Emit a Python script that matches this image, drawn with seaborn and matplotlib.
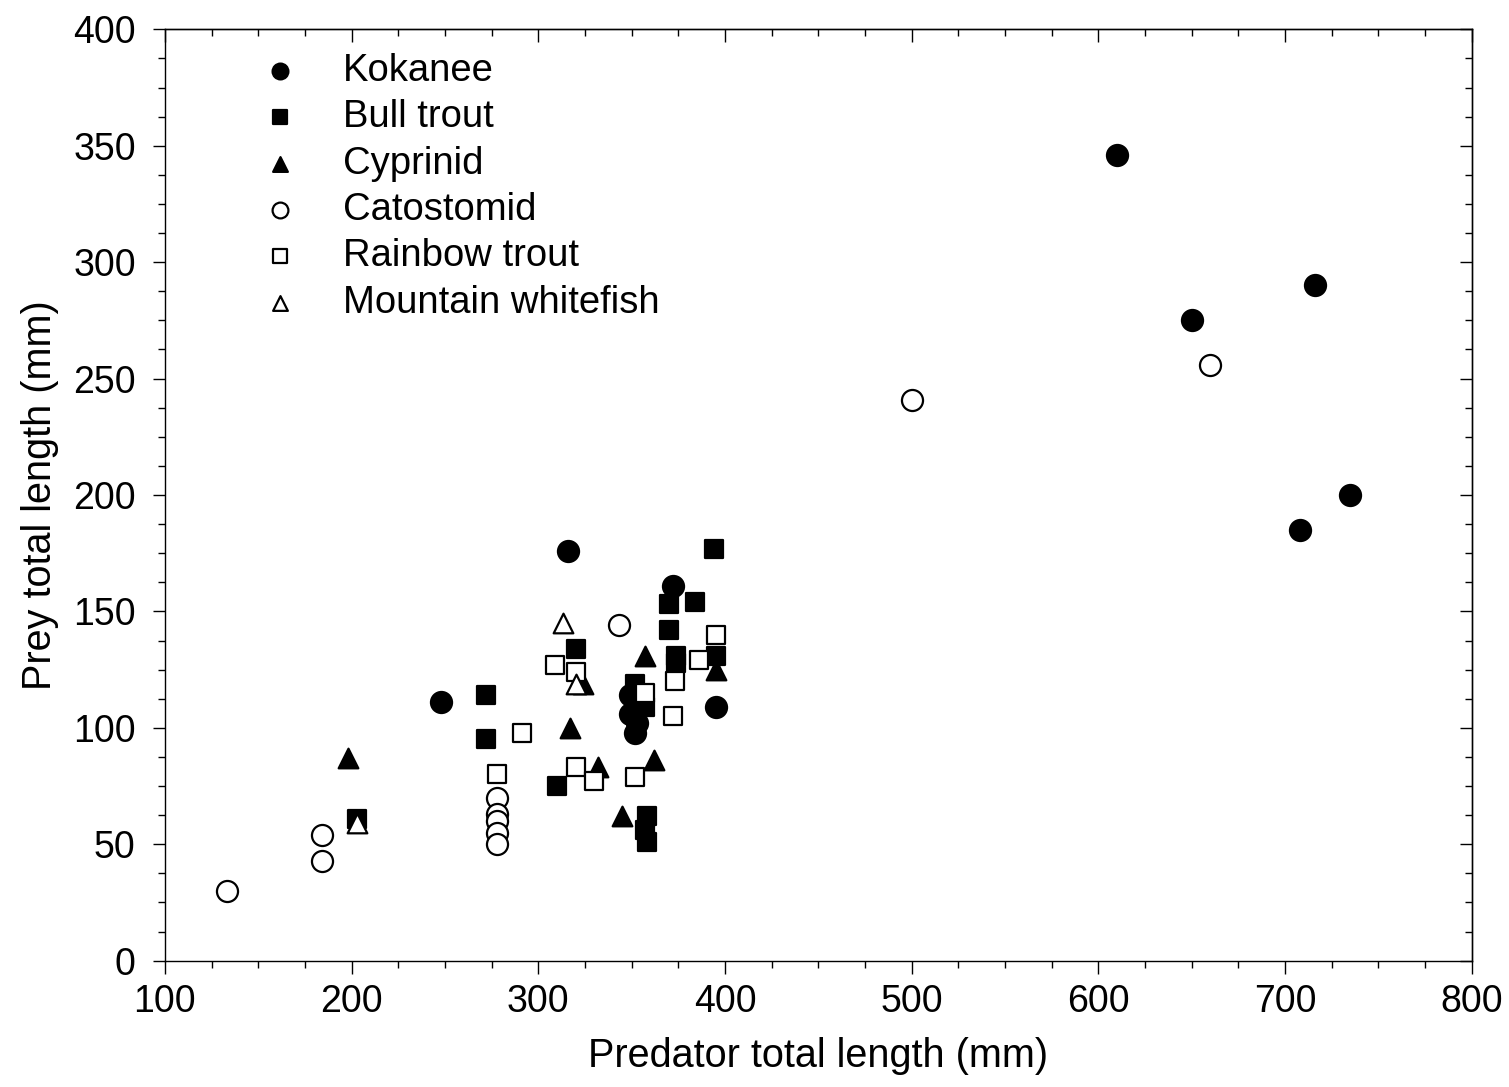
import numpy as np
import pandas as pd
import matplotlib
matplotlib.use("Agg")
import matplotlib.pyplot as plt
from matplotlib.ticker import MultipleLocator
import seaborn as sns

# prey eaten by predators, lengths in mm
kokanee_pred = [610, 650, 716, 708, 735, 248, 316, 372, 395, 349, 349, 353, 352]
kokanee_prey = [346, 275, 290, 185, 200, 111, 176, 161, 109, 114, 106, 102, 98]

bull_pred = [394, 370, 384, 370, 320, 374, 374, 395, 352, 357, 272, 272, 310, 358, 357, 358, 203]
bull_prey = [177, 153, 154, 142, 134, 131, 128, 131, 119, 109, 114, 95, 75, 62, 56, 51, 61]

cyp_pred = [357, 395, 324, 317, 332, 362, 345, 198]
cyp_prey = [131, 125, 119, 100, 83, 86, 62, 87]

cat_pred = [343, 500, 660, 278, 278, 278, 278, 278, 184, 184, 133]
cat_prey = [144, 241, 256, 70, 63, 60, 55, 50, 54, 43, 30]

rbt_pred = [395, 386, 309, 320, 373, 357, 372, 291, 320, 330, 352, 278]
rbt_prey = [140, 129, 127, 124, 120, 115, 105, 98, 83, 77, 79, 80]

mwf_pred = [313, 320, 203]
mwf_prey = [145, 119, 59]

species = ["Kokanee", "Bull trout", "Cyprinid", "Catostomid", "Rainbow trout", "Mountain whitefish"]

frames = []
for name, xs, ys in zip(species,
                        [kokanee_pred, bull_pred, cyp_pred, cat_pred, rbt_pred, mwf_pred],
                        [kokanee_prey, bull_prey, cyp_prey, cat_prey, rbt_prey, mwf_prey]):
    frames.append(pd.DataFrame({"pred": xs, "prey": ys, "species": name}))
df = pd.concat(frames, ignore_index=True)

# marker look per species
style = {
    "Kokanee": ("o", "black", 230),
    "Bull trout": ("s", "black", 170),
    "Cyprinid": ("^", "black", 200),
    "Catostomid": ("o", "white", 230),
    "Rainbow trout": ("s", "white", 170),
    "Mountain whitefish": ("^", "white", 200),
}

sns.set_style("ticks")
plt.rcParams["font.family"] = ["Liberation Sans", "DejaVu Sans"]
plt.rcParams["text.color"] = "black"
plt.rcParams["axes.labelcolor"] = "black"
plt.rcParams["xtick.color"] = "black"
plt.rcParams["ytick.color"] = "black"

fig = plt.figure(figsize=(15.09, 10.87), dpi=100)
ax = fig.add_axes([0.1093, 0.1162, 0.8660, 0.8568])

for name in species:
    mk, fc, s = style[name]
    sns.scatterplot(data=df[df["species"] == name], x="pred", y="prey", ax=ax,
                    marker=mk, s=s, facecolor=fc, edgecolor="black",
                    linewidth=1.6, label=name, zorder=3)

ax.set_xlim(100, 800)
ax.set_ylim(0, 400)
ax.xaxis.set_major_locator(MultipleLocator(100))
ax.xaxis.set_minor_locator(MultipleLocator(25))
ax.yaxis.set_major_locator(MultipleLocator(50))
ax.yaxis.set_minor_locator(MultipleLocator(12.5))

for sp in ax.spines.values():
    sp.set_visible(True)
    sp.set_linewidth(1.0)
    sp.set_color("black")

ax.tick_params(which="major", direction="out", length=9, width=1.0, labelsize=27)
ax.tick_params(which="minor", direction="out", length=4.8, width=1.0)
ax.tick_params(axis="x", which="major", pad=8)
ax.tick_params(axis="y", which="major", pad=12)

# inward ticks on top and right, like the original
top = ax.secondary_xaxis("top")
top.xaxis.set_major_locator(MultipleLocator(100))
top.xaxis.set_minor_locator(MultipleLocator(25))
top.tick_params(which="major", direction="in", length=9, width=1.0, labeltop=False)
top.tick_params(which="minor", direction="in", length=4.8, width=1.0)
right = ax.secondary_yaxis("right")
right.yaxis.set_major_locator(MultipleLocator(50))
right.yaxis.set_minor_locator(MultipleLocator(12.5))
right.tick_params(which="major", direction="in", length=9, width=1.0, labelright=False)
right.tick_params(which="minor", direction="in", length=4.8, width=1.0)
for s2 in (top, right):
    for sp in s2.spines.values():
        sp.set_linewidth(1.0)

ax.set_xlabel("Predator total length (mm)", fontsize=28.5, labelpad=12)
ax.set_ylabel("Prey total length (mm)", fontsize=28.5, labelpad=10)

leg = ax.legend(loc="upper left", bbox_to_anchor=(0.0735, 0.9745), frameon=False,
                fontsize=27.5, markerscale=0.75, handlelength=1.0, handletextpad=1.15,
                labelspacing=0.27, borderpad=0, borderaxespad=0)

fig.savefig("out.png", dpi=100)
